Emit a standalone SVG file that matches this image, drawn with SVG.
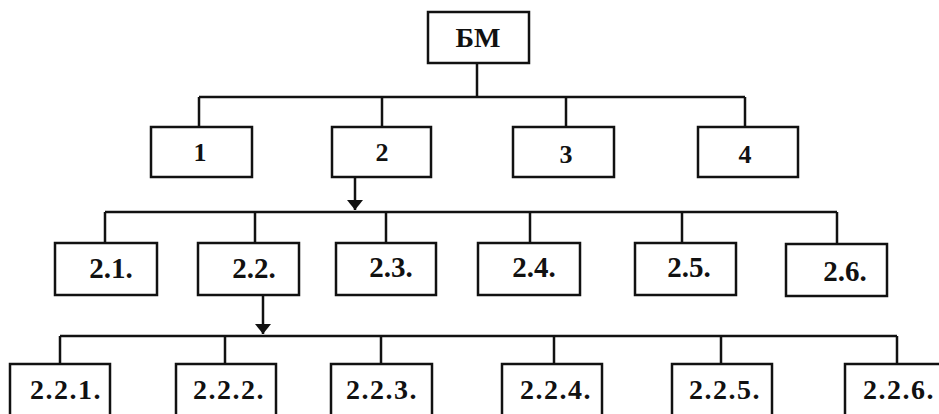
<svg xmlns="http://www.w3.org/2000/svg" width="939" height="414" viewBox="0 0 939 414">
<defs>
<style>
.box{fill:#fff;stroke:#111;stroke-width:2.5}
.ln{fill:none;stroke:#111;stroke-width:2.5}
.t{font-family:"Liberation Serif","DejaVu Serif","Times New Roman",serif;font-weight:bold;fill:#111;text-anchor:middle}
.t0{font-size:28px}
.t1{font-size:26px}
.t2{font-size:29px}
.t3{font-size:28px;letter-spacing:1.5px}
</style>
<marker id="arr" viewBox="0 0 10 10" refX="10" refY="5" markerWidth="10" markerHeight="16" markerUnits="userSpaceOnUse" orient="auto" preserveAspectRatio="none">
<path d="M0,0 L10,5 L0,10 Z" fill="#111"/>
</marker>
</defs>
<rect width="939" height="414" fill="#fff"/>
<g id="connectors">
<path class="ln" d="M477,63 V97 M199,97 H745 M199,97 V127 M382,97 V127 M566,97 V127 M745,97 V127"/>
<path class="ln" d="M355,177 V210" marker-end="url(#arr)"/>
<path class="ln" d="M105,212 H837 M105,212 V243 M255,212 V243 M386,212 V243 M530,212 V243 M682,212 V243 M837,212 V243"/>
<path class="ln" d="M263,295 V334" marker-end="url(#arr)"/>
<path class="ln" d="M60,336 H897 M60,336 V364 M225,336 V364 M381,336 V364 M554,336 V364 M721,336 V364 M897,336 V364"/>
</g>
<g id="n-BM"><rect class="box" x="428" y="12" width="101" height="51"/><text class="t t0" x="478" y="47">БМ</text></g>
<g id="n-1"><rect class="box" x="151" y="127" width="101" height="50"/><text class="t t1" x="200" y="161">1</text></g>
<g id="n-2"><rect class="box" x="332" y="127" width="99" height="50"/><text class="t t1" x="382" y="161">2</text></g>
<g id="n-3"><rect class="box" x="513" y="127" width="101" height="50"/><text class="t t1" x="566" y="163">3</text></g>
<g id="n-4"><rect class="box" x="698" y="127" width="100" height="50"/><text class="t t1" x="745" y="163">4</text></g>
<g id="n-2-1"><rect class="box" x="55" y="243" width="102" height="52"/><text class="t t2" x="111" y="278">2.1.</text></g>
<g id="n-2-2"><rect class="box" x="198" y="243" width="101" height="52"/><text class="t t2" x="254" y="278">2.2.</text></g>
<g id="n-2-3"><rect class="box" x="336" y="243" width="100" height="52"/><text class="t t2" x="391" y="277">2.3.</text></g>
<g id="n-2-4"><rect class="box" x="478" y="243" width="102" height="52"/><text class="t t2" x="534" y="277">2.4.</text></g>
<g id="n-2-5"><rect class="box" x="635" y="243" width="101" height="52"/><text class="t t2" x="689" y="277">2.5.</text></g>
<g id="n-2-6"><rect class="box" x="786" y="244" width="101" height="52"/><text class="t t2" x="845" y="281">2.6.</text></g>
<g id="n-2-2-1"><rect class="box" x="10" y="364" width="100" height="56"/><text class="t t3" x="66" y="399">2.2.1.</text></g>
<g id="n-2-2-2"><rect class="box" x="176" y="364" width="100" height="56"/><text class="t t3" x="229" y="399">2.2.2.</text></g>
<g id="n-2-2-3"><rect class="box" x="331" y="364" width="101" height="56"/><text class="t t3" x="382" y="399">2.2.3.</text></g>
<g id="n-2-2-4"><rect class="box" x="502" y="364" width="100" height="56"/><text class="t t3" x="556" y="399">2.2.4.</text></g>
<g id="n-2-2-5"><rect class="box" x="672" y="364" width="100" height="56"/><text class="t t3" x="725" y="399">2.2.5.</text></g>
<g id="n-2-2-6"><rect class="box" x="845" y="364" width="100" height="56"/><text class="t t3" x="899" y="399">2.2.6.</text></g>
</svg>
